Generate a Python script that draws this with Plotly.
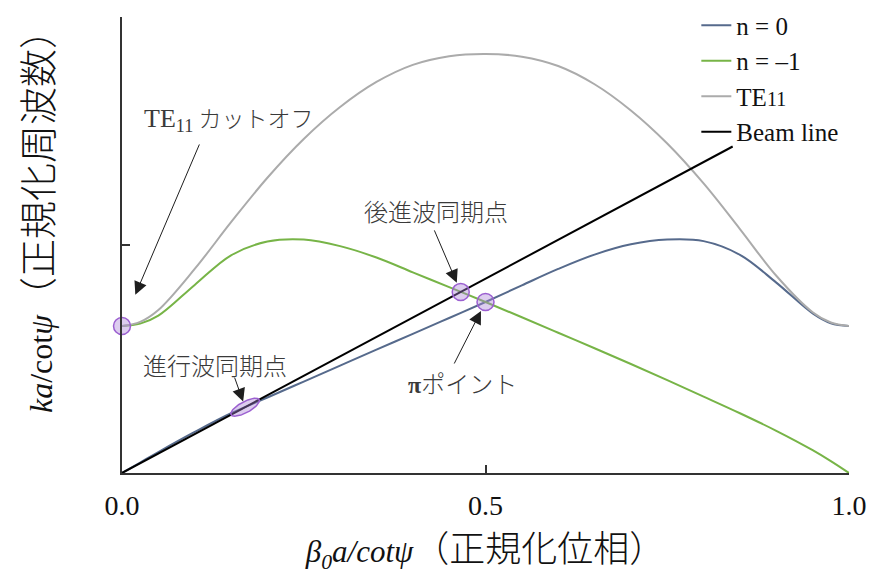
import numpy as np
import plotly.graph_objects as go

# Normalised phase axis (β0a/cotψ)
phase = [0.000, 0.025, 0.050, 0.100, 0.150, 0.200, 0.250, 0.300, 0.350, 0.400, 0.450, 0.500,
         0.550, 0.600, 0.650, 0.700, 0.750, 0.800, 0.850, 0.900, 0.950, 0.975, 1.000]

# Dispersion curves (ka/cotψ)
n_0 = [0.000, 0.046, 0.092, 0.180, 0.262, 0.331, 0.401, 0.471, 0.541, 0.610, 0.680, 0.750,
       0.823, 0.895, 0.958, 1.003, 1.024, 1.017, 0.957, 0.835, 0.700, 0.657, 0.645]
n_m1 = [0.645, 0.655, 0.690, 0.825, 0.955, 1.015, 1.024, 0.995, 0.945, 0.880, 0.815, 0.750,
        0.683, 0.615, 0.547, 0.478, 0.407, 0.335, 0.262, 0.185, 0.100, 0.052, 0.000]
te11 = [0.645, 0.663, 0.715, 0.895, 1.100, 1.295, 1.465, 1.605, 1.715, 1.790, 1.828, 1.838,
        1.826, 1.785, 1.705, 1.590, 1.445, 1.270, 1.070, 0.865, 0.705, 0.660, 0.645]

# Beam line
beam_x = [0.0, 0.84]
beam_y = [0.0, 1.432]

x_ticks = [0.0, 0.5, 1.0]
x_tick_text = ["0.0", "0.5", "1.0"]
y_ticks = [1.0]

# Layout geometry
W, H = 869, 574
M = dict(l=122, r=20, t=17, b=101)
X_RANGE = [0, 1]
Y_RANGE = [0, 2]
px_x = (W - M["l"] - M["r"]) / (X_RANGE[1] - X_RANGE[0])
px_y = (H - M["t"] - M["b"]) / (Y_RANGE[1] - Y_RANGE[0])

SERIF = "Liberation Serif"
CJK = "Noto Sans CJK JP"

# ---- synchronous points, found from the curves themselves ----
fine = np.linspace(0, 1, 20001)
b_slope = (beam_y[1] - beam_y[0]) / (beam_x[1] - beam_x[0])
beam_f = beam_y[0] + b_slope * (fine - beam_x[0])
n0_f = np.interp(fine, phase, n_0)
nm1_f = np.interp(fine, phase, n_m1)


def crossing(a, b, lo):
    d = a - b
    m = fine > lo
    idx = np.where(np.diff(np.sign(d[m])) != 0)[0][0]
    i = np.where(m)[0][0] + idx
    t = d[i] / (d[i] - d[i + 1])
    xc = fine[i] + t * (fine[i + 1] - fine[i])
    return xc, float(np.interp(xc, fine, a))


fwd_x, fwd_y = crossing(n0_f, beam_f, 0.08)      # forward-wave sync
bwd_x, bwd_y = crossing(nm1_f, beam_f, 0.05)     # backward-wave sync
pi_x, pi_y = crossing(n0_f, nm1_f, 0.05)         # π point
cut_x, cut_y = phase[0], te11[0]                 # TE11 cutoff

fig = go.Figure()

line_specs = [
    ("n = 0", n_0, "#566a8c"),
    ("n = \u20131", n_m1, "#77b447"),
    ('TE<span style="font-size:20px">11</span>', te11, "#ababab"),
]
for name, vals, col in line_specs:
    fig.add_trace(go.Scatter(x=phase, y=vals, mode="lines", name=name,
                             line=dict(color=col, width=2, shape="spline", smoothing=1)))

fig.add_trace(go.Scatter(x=beam_x, y=beam_y, mode="lines", name="Beam line",
                         line=dict(color="#000000", width=2)))

# Forward-wave sync: ellipse lying along the beam line
theta = np.arctan(b_slope * px_y / px_x)
t = np.linspace(0, 2 * np.pi, 90)
a_px, b_px = 16.0, 5.5
ex = fwd_x + (a_px * np.cos(theta) * np.cos(t) - b_px * np.sin(theta) * np.sin(t)) / px_x
ey = fwd_y + (a_px * np.sin(theta) * np.cos(t) + b_px * np.cos(theta) * np.sin(t)) / px_y
fig.add_trace(go.Scatter(x=ex, y=ey, mode="lines", fill="toself",
                         fillcolor="rgba(170,130,215,0.40)",
                         line=dict(color="#9b5fd0", width=1.5),
                         showlegend=False, hoverinfo="skip"))

# Circled points
fig.add_trace(go.Scatter(x=[cut_x, bwd_x, pi_x], y=[cut_y, bwd_y, pi_y], mode="markers",
                         marker=dict(size=17, color="rgba(170,130,215,0.40)",
                                     line=dict(color="#9b5fd0", width=1.5)),
                         cliponaxis=False, showlegend=False, hoverinfo="skip"))

TXT = "#3a3a3a"
ARW = "#1e1e1e"

annos = []


def arrow(x, y, ax, ay, standoff):
    annos.append(dict(x=x, y=y, xref="x", yref="y", ax=ax, ay=ay,
                      text="", showarrow=True, arrowhead=2, arrowsize=2.6,
                      arrowwidth=1, arrowcolor=ARW, standoff=standoff))


def label(x, y, text):
    annos.append(dict(x=x, y=y, xref="x", yref="y", text=text, showarrow=False,
                      font=dict(family=CJK, size=24, color=TXT, weight=300),
                      xanchor="center", yanchor="middle"))


arrow(cut_x, cut_y, 78, -183, 34)
arrow(bwd_x, bwd_y, -27, -63, 10)
arrow(pi_x, pi_y, -32, 63, 10)
arrow(fwd_x, fwd_y, -11, -31, 6)

label(0.147, 1.56,
      f'<span style="font-family:{SERIF};font-size:26px;font-weight:normal">TE<sub>11</sub></span> '
      f'<span style="font-size:23px">カットオフ</span>')
label(0.432, 1.153, "後進波同期点")
label(0.469, 0.395, f'<span style="font-family:{SERIF};font-weight:bold">π</span>ポイント')
label(0.128, 0.478, "進行波同期点")

# Vertical-axis title, centred where the printed label sits
annos.append(dict(
    x=(35 - M["l"]) / px_x, y=(H - M["b"] - 212) / (H - M["t"] - M["b"]),
    xref="paper", yref="paper", textangle=-90, showarrow=False,
    xanchor="center", yanchor="middle",
    text=(f'<i>ka</i>/cot<i>ψ</i>'
          f'<span style="font-family:{CJK};font-size:38px;font-weight:300">（正規化周波数）</span>'),
    font=dict(family=SERIF, size=32, color="#111111")))

axis_common = dict(showline=True, linecolor="#333333", linewidth=1.5,
                   ticks="inside", ticklen=8, tickcolor="#333333", tickwidth=1.5,
                   showgrid=False, zeroline=False)

fig.update_layout(
    width=W, height=H,
    margin=dict(**M, pad=0, autoexpand=False),
    paper_bgcolor="white", plot_bgcolor="white",
    font=dict(family=SERIF, color="#111111"),
    xaxis=dict(range=X_RANGE, tickvals=x_ticks, ticktext=x_tick_text,
               tickfont=dict(family=SERIF, size=28, color="#111111"),
               ticklabelstandoff=7,
               title=dict(text=(f'<i>β<sub>0</sub>a/cotψ</i>'
                                f'<span style="font-family:{CJK};font-size:36px;font-weight:300">（正規化位相）</span>'),
                          font=dict(family=SERIF, size=31, color="#111111"), standoff=16),
               **axis_common),
    yaxis=dict(range=Y_RANGE, tickvals=y_ticks, showticklabels=False, **axis_common),
    legend=dict(x=0.79, y=1.032, xanchor="left", yanchor="top",
                font=dict(family=SERIF, size=25, color="#111111"),
                bgcolor="rgba(0,0,0,0)", itemwidth=30, tracegroupgap=0),
    annotations=annos,
    showlegend=True,
)

fig.write_html("out.html")
